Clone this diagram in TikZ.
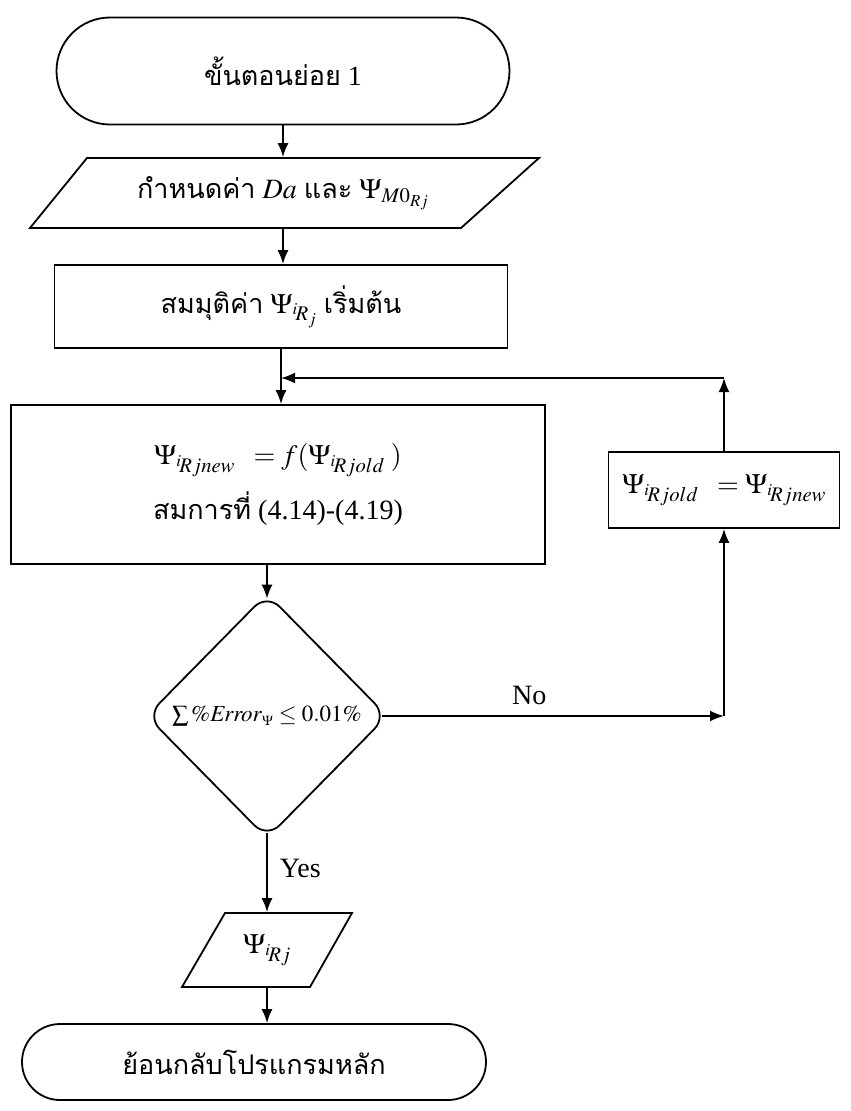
\documentclass[tikz,border=0pt]{standalone}
\usepackage{mathptmx}
\usepackage{fontspec}
\setmainfont{Liberation Serif}
\newfontfamily\thai[Script=Thai]{Loma}
\usetikzlibrary{arrows.meta,shapes.geometric,shapes.misc,calc}
\begin{document}
\begin{tikzpicture}[x=1pt,y=-1pt,line width=1.8pt,
  every node/.style={font=\fontsize{28}{32}\selectfont,inner sep=0pt},
  term/.style={rounded rectangle,draw},
  txtbox/.style={rectangle},
  procbox/.style={rectangle,draw},
  decis/.style={diamond,draw,aspect=1,rounded corners=18pt},
  arr/.style={-{Latex[length=14pt,width=11pt]}}]
\useasboundingbox (0,0) rectangle (851,1111);
% nodes
\node[term,minimum width=453pt,minimum height=107pt] (start) at (283,71)
  {{\thai\fontsize{27}{30}\selectfont ขั้นตอนย่อย}~1};
\node[txtbox,minimum width=380pt,minimum height=70pt] (in1) at (283,193)
  {{\thai\fontsize{27}{30}\selectfont กำหนดค่า} $\mathit{Da}$ {\thai\fontsize{27}{30}\selectfont และ} $\Psi_{M\mathrm{0}_{Rj}}$};
\draw (87,158) -- (539,158) -- (461,228) -- (30,228) -- cycle;
\node[procbox,minimum width=453pt,minimum height=83pt] (proc1) at (281,306.5)
  {{\thai\fontsize{27}{30}\selectfont สมมุติค่า} $\Psi_{{}^{i}\!R_j}$ {\thai\fontsize{27}{30}\selectfont เริ่มต้น}};
\node[procbox,minimum width=534pt,minimum height=159pt,align=center] (main) at (278,484.5)
  {$\Psi_{{}^{i}\!Rjnew}\;\;=f(\Psi_{{}^{i}\!Rjold}\;)$\\[14pt]
   {\thai\fontsize{27}{30}\selectfont สมการที่}~(4.14)-(4.19)};
\node[decis,minimum width=241pt,minimum height=245pt] (dec) at (267,716)
  {\fontsize{23}{26}\selectfont $\sum\%\mathit{Error}_{\scriptscriptstyle\Psi}\le 0.01\%$};
\node[procbox,minimum width=231pt,minimum height=76pt] (fb) at (724,490)
  {$\Psi_{{}^{i}\!Rjold}\;\;=\Psi_{{}^{i}\!Rjnew}$};
\node[txtbox,minimum width=120pt,minimum height=74pt] (out) at (267,950)
  {$\Psi_{{}^{i}\!Rj}$};
\draw (225,913) -- (352,913) -- (310,987) -- (182,987) -- cycle;
\node[term,minimum width=464pt,minimum height=76pt] (end) at (254,1062)
  {{\thai\fontsize{27}{30}\selectfont ย้อนกลับโปรแกรมหลัก}};
% connectors
\coordinate (j) at (281,378);
\coordinate (c3) at (fb.south |- dec.east);
\coordinate (dtop) at ($(dec.north)+(0,6)$);
\coordinate (dbot) at ($(dec.south)+(0,-6)$);
\coordinate (dright) at ($(dec.east)+(-6,0)$);
\draw[arr] (start.south) -- (start.south |- in1.north);
\draw[arr] (in1.south) -- (in1.south |- proc1.north);
\draw[arr] (proc1.south) -- (proc1.south |- main.north);
\draw[arr] (dec.north |- main.south) -- (dtop);
\draw[arr] (dright) -- node[pos=0.43,above=10pt]{No} (c3);
\draw[arr] (c3) -- (fb.south);
\draw[arr] (fb.north) -- (fb.north |- j);
\draw[arr] (fb.north |- j) -- (j);
\draw[arr] (dbot) -- node[pos=0.45,right=12pt]{Yes} (out.north);
\draw[arr] (out.south) -- (out.south |- end.north);
\end{tikzpicture}
\end{document}
